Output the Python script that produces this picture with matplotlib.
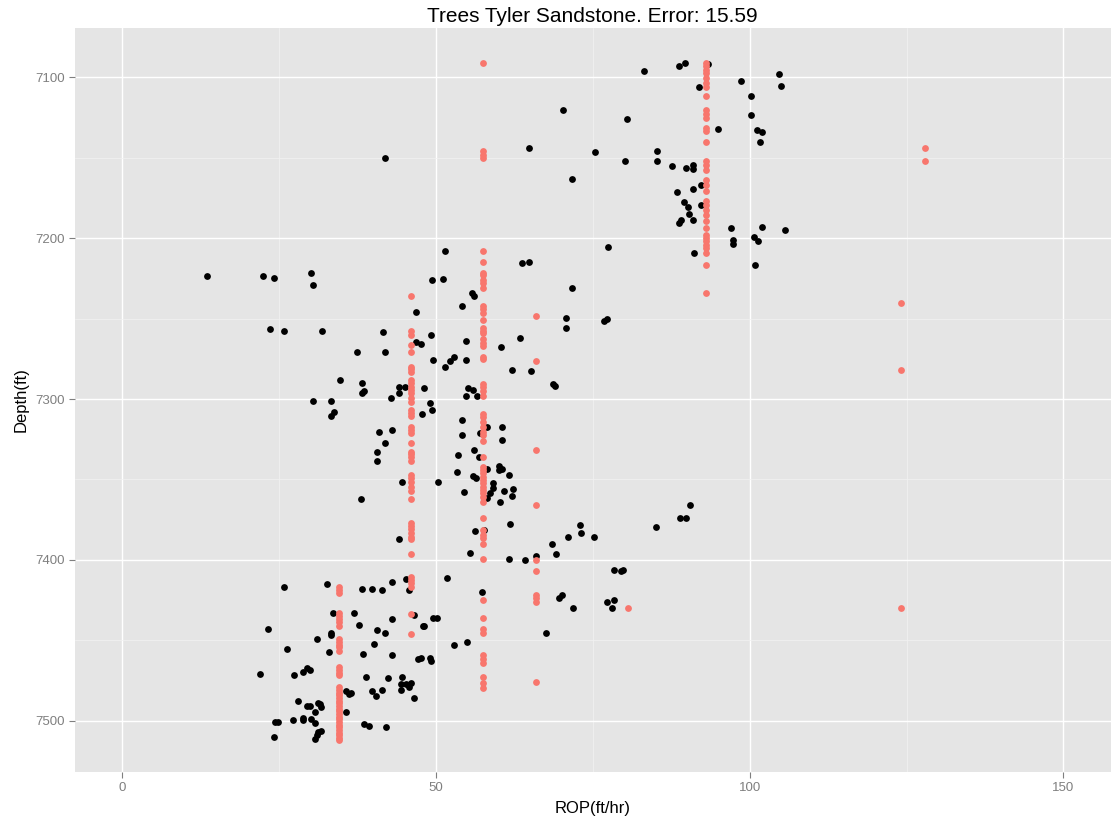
import matplotlib
matplotlib.use("Agg")
import matplotlib.pyplot as plt
from matplotlib.ticker import MultipleLocator

plt.rcParams['font.family'] = ['Liberation Sans', 'DejaVu Sans']

# Measured rate of penetration (ft/hr) and depth (ft)
actual_rop = [
    41.9, 13.6, 22.5, 24.2, 30.1, 30.4,
    83.2, 88.7, 89.7, 93.3, 98.6, 92.0, 100.2, 70.3, 100.2, 80.4, 94.9, 101.1, 102.0, 101.7,
    64.9, 75.4, 85.3, 80.2, 85.3, 71.7, 87.6, 89.8, 91.0, 91.0, 92.2, 88.5, 91.0, 89.6, 90.1,
    92.2, 90.3, 91.0, 89.0, 88.7, 97.0, 102.0, 97.4, 97.4, 100.7, 101.4, 77.4, 91.2, 100.9,
    51.5, 51.2, 49.4, 63.7, 64.9, 71.7, 104.6, 105.0, 105.7,
    46.9, 23.5, 25.8, 31.9, 41.6, 46.9, 47.7, 37.5, 41.9, 34.8, 38.2, 38.2, 38.6, 44.2, 45.1,
    44.2, 48.1, 42.8, 30.4, 33.3, 33.8, 33.3, 47.8, 40.9, 43.0, 41.9, 40.7, 40.7, 44.6, 38.0, 44.2,
    55.7, 56.1, 54.1, 70.8, 70.8, 76.8, 77.3, 49.2, 54.8, 60.4, 63.4, 49.6, 51.5, 52.2, 52.9,
    54.8, 62.1, 65.1, 68.7, 69.0, 54.8, 55.2, 55.9, 56.6, 49.0, 49.4, 54.1, 58.1, 60.5, 54.1,
    57.0, 60.5, 53.6, 56.1, 56.8, 53.4, 55.9, 56.4, 58.1, 60.0, 60.5, 60.0, 61.6, 50.3, 54.5,
    59.1, 59.1, 58.6, 58.2, 60.9, 62.3, 62.1, 60.2, 61.8, 56.3, 57.7, 72.9, 73.1, 71.0, 75.2,
    85.1, 88.9, 89.8, 90.5,
    55.4, 51.8, 61.6, 64.2, 66.0, 68.5, 69.2, 78.4, 79.5, 79.8, 69.7, 70.1, 71.9, 77.3, 78.4,
    78.0, 57.3, 67.6, 49.5, 50.2, 48.1, 52.9, 55.0, 47.7, 49.0, 49.3,
    25.8, 32.7, 38.2, 39.8, 41.4, 43.0, 45.3, 45.8, 23.2, 33.6, 37.0, 37.7, 43.0, 40.7, 41.9,
    46.5, 47.9, 31.0, 33.3, 33.3, 26.3, 32.9, 40.2, 38.4, 43.0, 47.1, 21.9, 27.4, 28.8, 29.4,
    29.9, 38.9, 42.3, 44.6, 44.4, 45.3, 46.0, 44.4, 45.8, 46.5, 39.8, 40.5, 41.4, 35.7, 36.1,
    36.4, 35.7, 28.1, 29.4, 29.9, 31.3, 31.5, 31.7, 30.8, 28.8, 28.8, 30.1, 30.8, 27.2, 24.4,
    24.8, 24.2, 31.3, 31.7, 31.0, 30.8, 38.6, 39.3, 42.1,
]
actual_depth = [
    7150.0, 7223.5, 7223.5, 7224.6, 7221.9, 7228.9,
    7096.3, 7092.8, 7090.9, 7091.5, 7102.5, 7106.0, 7111.4, 7120.5, 7123.2, 7125.7, 7132.0, 7133.0, 7134.0, 7140.2,
    7143.8, 7146.4, 7145.6, 7151.8, 7151.8, 7163.4, 7155.3, 7156.4, 7154.3, 7157.2, 7167.0, 7171.5, 7169.6, 7177.5, 7180.4,
    7179.6, 7185.0, 7188.5, 7188.7, 7190.4, 7193.9, 7193.0, 7201.2, 7203.8, 7199.3, 7202.0, 7205.5, 7209.2, 7216.5,
    7208.2, 7225.4, 7226.2, 7215.5, 7214.6, 7231.0, 7098.0, 7105.2, 7195.0,
    7245.9, 7256.7, 7257.5, 7257.5, 7258.5, 7264.6, 7265.8, 7271.0, 7271.0, 7288.0, 7289.9, 7296.0, 7295.2, 7292.4, 7292.4,
    7296.0, 7293.4, 7299.6, 7301.4, 7301.4, 7307.9, 7310.4, 7309.5, 7320.3, 7319.5, 7327.5, 7333.0, 7338.4, 7351.6, 7362.4, 7386.8,
    7234.3, 7236.0, 7242.2, 7249.5, 7255.9, 7251.3, 7250.5, 7260.2, 7264.0, 7267.5, 7262.0, 7275.6, 7280.1, 7276.4, 7273.7,
    7275.6, 7281.8, 7282.6, 7290.7, 7291.7, 7297.9, 7293.4, 7294.2, 7297.9, 7302.3, 7306.8, 7313.0, 7317.6, 7317.6, 7322.2,
    7321.1, 7325.7, 7334.6, 7331.9, 7336.2, 7345.4, 7348.0, 7348.9, 7343.5, 7341.8, 7343.5, 7344.3, 7347.2, 7351.6, 7357.8,
    7352.4, 7355.1, 7358.6, 7361.4, 7357.0, 7356.1, 7360.5, 7364.2, 7377.7, 7382.0, 7381.3, 7378.5, 7383.1, 7385.6, 7385.6,
    7379.4, 7374.0, 7374.0, 7365.9,
    7395.5, 7411.0, 7399.3, 7400.1, 7397.4, 7390.2, 7396.6, 7406.3, 7407.1, 7406.3, 7423.5, 7421.7, 7429.7, 7426.2, 7425.2,
    7429.7, 7419.8, 7445.2, 7436.0, 7436.0, 7441.3, 7452.9, 7451.3, 7461.0, 7461.0, 7462.9,
    7416.7, 7415.2, 7418.1, 7418.1, 7418.9, 7413.6, 7411.7, 7418.9, 7443.0, 7433.2, 7433.2, 7440.3, 7436.8, 7443.8, 7445.7,
    7434.3, 7441.1, 7449.2, 7445.7, 7446.9, 7455.6, 7457.5, 7452.1, 7458.3, 7459.2, 7461.8, 7471.0, 7471.8, 7469.9, 7467.2,
    7468.3, 7472.6, 7473.6, 7472.6, 7477.2, 7477.2, 7476.4, 7480.7, 7479.0, 7486.1, 7481.7, 7484.5, 7480.7, 7481.7, 7483.6,
    7482.8, 7494.4, 7488.0, 7490.7, 7490.7, 7488.8, 7489.8, 7491.7, 7494.4, 7498.1, 7499.6, 7499.0, 7501.2, 7499.8, 7500.6,
    7500.6, 7510.3, 7507.0, 7506.2, 7508.9, 7511.4, 7501.9, 7503.5, 7504.1,
]

# Regression-tree predictions: one leaf value per group of depths
leaf_values = [34.55, 45.98, 57.46, 65.97, 80.64, 93.0, 124.1, 128.0]
depths_leaf_34 = [
    7417.1, 7418.7, 7420.4, 7433.2, 7434.9, 7436.6, 7438.5, 7441.1, 7449.4, 7451.1, 7452.8,
    7454.4, 7456.5, 7466.8, 7468.5, 7470.2, 7471.8, 7479.2, 7480.9, 7482.6, 7484.2, 7485.9,
    7487.6, 7489.2, 7490.9, 7492.5, 7494.2, 7495.8, 7497.5, 7499.1, 7500.8, 7502.5, 7504.1,
    7505.8, 7507.5, 7509.1, 7510.8, 7512.0,
]
depths_leaf_46 = [
    7236.0, 7257.5, 7260.2, 7266.6, 7271.0, 7279.9, 7281.5, 7283.0, 7288.2, 7289.9, 7292.4,
    7294.4, 7296.1, 7299.6, 7301.7, 7306.8, 7308.5, 7310.4, 7317.6, 7319.3, 7320.9, 7327.5,
    7332.8, 7334.2, 7335.9, 7338.4, 7347.2, 7349.3, 7351.6, 7354.5, 7357.2, 7362.4, 7376.9,
    7379.0, 7381.0, 7383.1, 7385.6, 7387.2, 7396.6, 7410.5, 7412.5, 7414.6, 7416.7, 7433.9,
    7446.3,
]
depths_leaf_57 = [
    7090.9, 7145.6, 7148.1, 7150.2, 7208.2, 7215.0, 7221.7, 7222.7, 7226.0, 7228.1, 7231.2,
    7242.2, 7244.2, 7246.3, 7250.9, 7255.7, 7257.5, 7259.2, 7262.9, 7265.0, 7267.0, 7274.1,
    7275.3, 7290.7, 7292.7, 7294.8, 7298.1, 7309.5, 7311.4, 7314.1, 7317.2, 7320.3, 7322.4,
    7325.9, 7336.2, 7342.1, 7344.1, 7346.2, 7348.3, 7350.4, 7352.4, 7354.5, 7356.6, 7358.6,
    7360.7, 7363.8, 7374.2, 7381.4, 7384.5, 7386.6, 7390.2, 7399.7, 7425.2, 7436.0, 7443.0,
    7445.5, 7459.0, 7461.5, 7464.0, 7473.0, 7476.6, 7479.5,
]
depths_leaf_66 = [7248.6, 7276.4, 7331.9, 7365.9, 7400.1, 7406.9, 7421.9, 7423.9, 7426.0, 7475.9]
depths_leaf_81 = [7429.7]
depths_leaf_93 = [
    7090.9, 7092.8, 7095.3, 7097.3, 7100.4, 7103.5, 7106.0, 7111.6, 7120.1, 7122.8, 7125.3,
    7131.5, 7133.6, 7140.2, 7151.8, 7154.3, 7157.4, 7163.7, 7166.8, 7170.5, 7177.1, 7179.2,
    7182.3, 7185.4, 7189.5, 7193.7, 7197.9, 7199.9, 7202.0, 7204.1, 7206.1, 7209.2, 7216.5,
    7234.3,
]
depths_leaf_124 = [7240.5, 7281.8, 7429.7]
depths_leaf_128 = [7143.8, 7151.8]

leaf_depth_groups = [depths_leaf_34, depths_leaf_46, depths_leaf_57, depths_leaf_66,
                     depths_leaf_81, depths_leaf_93, depths_leaf_124, depths_leaf_128]
pred_rop = []
pred_depth = []
for value, group in zip(leaf_values, leaf_depth_groups):
    pred_rop.extend([value] * len(group))
    pred_depth.extend(group)

W, H = 1111, 823
fig = plt.figure(figsize=(W / 100, H / 100), dpi=100)
fig.patch.set_facecolor('white')
ax = fig.add_axes([75 / W, (H - 772) / H, (1110.5 - 75) / W, (772 - 28) / H])
ax.set_facecolor('#E5E5E5')

ax.scatter(actual_rop, actual_depth, s=24, color='black', linewidths=0, zorder=3)
ax.scatter(pred_rop, pred_depth, s=24, color='#F8766D', linewidths=0, zorder=4)

ax.set_xlim(-7.5, 157.5)
ax.set_ylim(7531.9, 7069.3)

ax.xaxis.set_major_locator(MultipleLocator(50))
ax.xaxis.set_minor_locator(MultipleLocator(25))
ax.yaxis.set_major_locator(MultipleLocator(100))
ax.yaxis.set_minor_locator(MultipleLocator(50))

ax.grid(which='major', color='white', linewidth=1.0, zorder=1)
ax.grid(which='minor', color='#F2F2F2', linewidth=0.5, zorder=1)
ax.set_axisbelow(True)

for side in ax.spines.values():
    side.set_visible(False)

ax.tick_params(which='major', direction='out', length=4, width=0.8, color='#7F7F7F',
               labelcolor='#7F7F7F', labelsize=9.5, pad=3)
ax.tick_params(which='minor', length=0)

ax.set_xlabel('ROP(ft/hr)', fontsize=12, color='black', labelpad=5)
ax.set_ylabel('Depth(ft)', fontsize=12, color='black', labelpad=5)
ax.set_title('Trees Tyler Sandstone. Error: 15.59', fontsize=15, color='black', pad=4)

fig.savefig('out.png', dpi=100, facecolor='white')
